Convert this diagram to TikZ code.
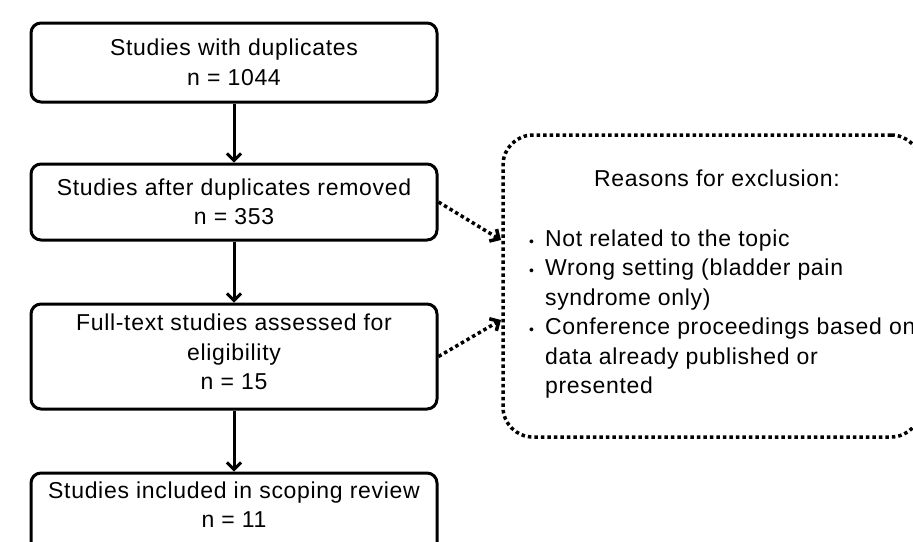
\documentclass[tikz,border=0pt]{standalone}
\usepackage{fontspec}
\setmainfont{Liberation Sans}[LetterSpace=3]
\usetikzlibrary{arrows.meta}

\begin{document}
\begin{tikzpicture}[x=1pt,y=-1pt,>={Straight Barb[length=7pt,width=14pt]},
  font=\fontsize{23}{29.5}\selectfont,
  stagebox/.style={draw,line width=3pt,rounded corners=10pt,minimum width=406pt,align=center,inner sep=0pt},
  flow/.style={->,line width=3pt},
  skipflow/.style={->,line width=3.5pt,dash pattern=on 3.5pt off 3pt},
  reasonbox/.style={draw,line width=3.5pt,dash pattern=on 3.5pt off 3pt,rounded corners=30pt,minimum width=418pt,minimum height=302pt}]
\useasboundingbox (0,0) rectangle (913,541);
\clip (0,0) rectangle (913,541);

%stages
\node[stagebox,minimum height=79pt] (dup) at (234,62.5) {Studies with duplicates\\n = 1044};
\node[stagebox,minimum height=76pt] (nodup) at (234,202) {Studies after duplicates removed\\n = 353};
\node[stagebox,minimum height=105pt,text depth=9pt] (full) at (234,356.5) {Full-text studies assessed for\\eligibility\\n = 15};
\node[stagebox,minimum height=80pt,text depth=17pt] (incl) at (234,513) {Studies included in scoping review\\n = 11};

\draw[flow] (dup) -- (nodup);
\draw[flow] (nodup) -- (full);
\draw[flow] (full) -- (incl);

%exclusions
\node[reasonbox] (excl) at (712,286) {};
\node (exhead) at (717,178) {Reasons for exclusion:};
\node[anchor=base west,inner sep=0pt] (exlist) at (529,246) {%
\begin{tabular}[t]{@{}l@{\hspace{11pt}}l@{}}
{\fontsize{14}{14}\selectfont •} & Not related to the topic\\
{\fontsize{14}{14}\selectfont •} & Wrong setting (bladder pain\\
 & syndrome only)\\
{\fontsize{14}{14}\selectfont •} & Conference proceedings based on\\
 & data already published or\\
 & presented
\end{tabular}};

\coordinate (in1) at (501,240);
\coordinate (in2) at (501,320);
\draw[skipflow] (nodup.east) -- (in1);
\draw[skipflow] (full.east) -- (in2);

\end{tikzpicture}
\end{document}
